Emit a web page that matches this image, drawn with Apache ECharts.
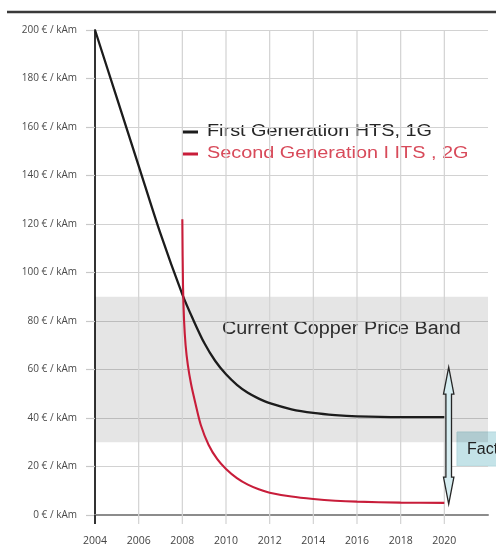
<!DOCTYPE html>
<html>
<head>
<meta charset="utf-8">
<script src="https://cdn.jsdelivr.net/npm/echarts@6/dist/echarts.min.js"></script>
<style>
  html, body { margin: 0; padding: 0; background: #fff; }
  #chart { width: 496px; height: 549px; }
</style>
</head>
<body>
<div id="chart"></div>
<script>
// Cost of HTS conductor per kA·m, first vs second generation
const years1G = [2004, 2005, 2006, 2007, 2008, 2008.5, 2009, 2009.5, 2010, 2010.5, 2011, 2011.5, 2012, 2013, 2014, 2015, 2016, 2018, 2020];
const cost1G  = [200, 172, 144, 116, 91, 80.5, 71, 63.6, 58, 53.7, 50.4, 48, 46.1, 43.6, 42.1, 41.2, 40.7, 40.4, 40.4];

const years2G = [2008, 2008.03, 2008.08, 2008.15, 2008.25, 2008.4, 2008.6, 2008.85, 2009.2, 2009.6, 2010, 2010.5, 2011, 2011.5, 2012, 2013, 2014, 2015, 2016, 2018, 2020];
const cost2G  = [122, 95, 80, 70, 62, 54, 46, 37, 29, 23, 19, 15.2, 12.5, 10.6, 9.2, 7.6, 6.6, 5.9, 5.5, 5.1, 5];

const copperBand = [30, 90];           // €/kAm range of copper
const factorArrow = [2020.2, 61, 4.5]; // year, top value, bottom value

const xTicks = [2004, 2006, 2008, 2010, 2012, 2014, 2016, 2018, 2020];
const yTicks = [0, 20, 40, 60, 80, 100, 120, 140, 160, 180, 200];

const seriesNames = ['First Generation HTS, 1G', 'Second Generation I ITS , 2G'];
const seriesColors = ['#1c1c1c', '#c81d3a'];
const legendTextColors = ['#262626', '#d84a5a'];

const pairs = (xs, ys) => xs.map((x, i) => [x, ys[i]]);

const chart = echarts.init(document.getElementById('chart'), null, { renderer: 'canvas' });

// legend drawn as graphic so its wide lettering can be stretched
const legendItems = [];
seriesNames.forEach((name, i) => {
  const y = 132 + i * 22;
  legendItems.push({
    type: 'rect', silent: true,
    shape: { x: 182, y: y - 1.5, width: 16, height: 3 },
    style: { fill: seriesColors[i] }
  });
  legendItems.push({
    type: 'text', silent: true, x: 207, y: y, scaleX: 1.24,
    style: {
      text: name, fill: legendTextColors[i],
      font: '16px "Liberation Sans"', textVerticalAlign: 'middle', verticalAlign: 'middle'
    }
  });
});

const option = {
  backgroundColor: '#ffffff',
  animation: false,
  grid: { left: 95, right: 8, top: 30, bottom: 34 },
  xAxis: {
    type: 'value', min: 2004, max: 2022, interval: 2,
    axisLine: { show: true, onZero: false, lineStyle: { color: '#8c8c8c', width: 2 } },
    axisTick: { show: false },
    splitLine: { show: false },
    axisLabel: {
      margin: 21, color: '#444', fontSize: 10.5, fontFamily: 'Open Sans',
      formatter: v => xTicks.includes(v) ? String(v) : ''
    }
  },
  yAxis: {
    type: 'value', min: 0, max: 200, interval: 20,
    axisLine: { show: true, lineStyle: { color: '#333', width: 2 } },
    axisTick: { show: true, length: 9, lineStyle: { color: '#c8c8c8', width: 1.2 } },
    splitLine: { show: true, lineStyle: { color: '#d2d2d2', width: 1.2 } },
    axisLabel: {
      margin: 18, color: '#4a4a4a', fontSize: 10, fontFamily: 'Open Sans',
      formatter: v => yTicks.includes(v) ? v + ' € / kAm' : ''
    }
  },
  series: [
    {
      // vertical grid lines with ticks below the axis
      type: 'custom', z: 1, silent: true,
      data: xTicks,
      clip: false,
      renderItem: (params, api) => {
        const x = api.value(0);
        const top = api.coord([x, 200]);
        const bot = api.coord([x, 0]);
        const isAxis = x === xTicks[0];
        return {
          type: 'line',
          shape: { x1: top[0], y1: isAxis ? bot[1] : top[1], x2: bot[0], y2: bot[1] + 9 },
          style: { stroke: isAxis ? '#333' : '#d2d2d2', lineWidth: isAxis ? 2 : 1.2 }
        };
      },
      encode: { x: 0 }
    },
    {
      name: seriesNames[0], type: 'line', z: 3,
      data: pairs(years1G, cost1G),
      smooth: 0.3, showSymbol: false,
      lineStyle: { color: seriesColors[0], width: 2.3 },
      itemStyle: { color: seriesColors[0] },
      markArea: {
        silent: true,
        itemStyle: { color: 'rgba(0,0,0,0.1)' },
        data: [[{ xAxis: 2004, yAxis: copperBand[0] }, { xAxis: 2022, yAxis: copperBand[1] }]]
      }
    },
    {
      name: seriesNames[1], type: 'line', z: 3,
      data: pairs(years2G, cost2G),
      smooth: 0.3, showSymbol: false,
      lineStyle: { color: seriesColors[1], width: 2.1 },
      itemStyle: { color: seriesColors[1] }
    },
    {
      // double-headed arrow showing the cost factor
      type: 'custom', z: 5, silent: true, clip: false,
      data: [factorArrow],
      renderItem: (params, api) => {
        const p1 = api.coord([api.value(0), api.value(1)]);
        const p2 = api.coord([api.value(0), api.value(2)]);
        const cx = p1[0], yt = p1[1], yb = p2[1];
        const hw = 2.8, hh = 5.2, hl = 27;
        const pts = [
          [cx, yt], [cx + hh, yt + hl], [cx + hw, yt + hl],
          [cx + hw, yb - hl], [cx + hh, yb - hl], [cx, yb],
          [cx - hh, yb - hl], [cx - hw, yb - hl], [cx - hw, yt + hl],
          [cx - hh, yt + hl]
        ];
        return {
          type: 'polygon',
          shape: { points: pts },
          style: { fill: '#d6edf1', stroke: '#262626', lineWidth: 1.3 }
        };
      },
      encode: { x: 0 }
    }
  ],
  graphic: [
    {
      type: 'line', silent: true,
      shape: { x1: 7, y1: 12, x2: 496, y2: 12 },
      style: { stroke: '#3a3a3a', lineWidth: 2.5 }
    },
    {
      type: 'text', silent: true, x: 222, y: 329, scaleX: 1.1,
      style: {
        text: 'Current Copper Price Band', fill: '#333',
        font: '18px "Liberation Sans"', textVerticalAlign: 'middle', verticalAlign: 'middle'
      }
    },
    {
      type: 'rect', silent: true,
      shape: { x: 457, y: 432, width: 50, height: 34 },
      style: { fill: '#c4e3e8', stroke: '#b5d8de', lineWidth: 1 }
    },
    {
      type: 'text', silent: true, x: 467, y: 450,
      style: {
        text: 'Fact', fill: '#222', font: '16px "Liberation Sans"',
        textVerticalAlign: 'middle', verticalAlign: 'middle'
      }
    }
  ].concat(legendItems)
};

chart.setOption(option);
</script>
</body>
</html>
